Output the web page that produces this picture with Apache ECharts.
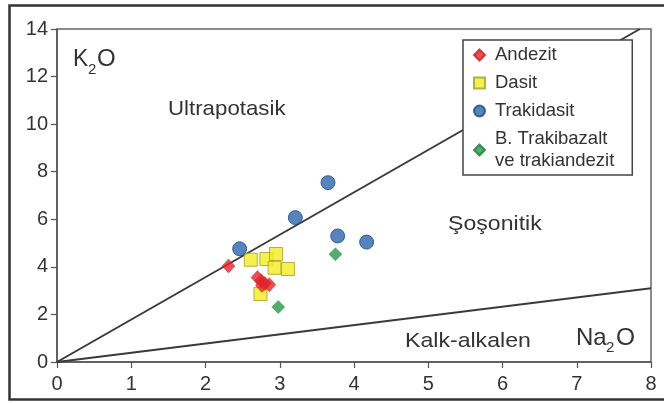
<!DOCTYPE html>
<html>
<head>
<meta charset="utf-8">
<script src="https://cdn.jsdelivr.net/npm/echarts@6/dist/echarts.min.js"></script>
<style>html,body{margin:0;padding:0;background:#fff}#c{width:664px;height:403px}</style>
</head>
<body>
<div id="c"></div>
<script>
// ---- data ----
var seriesNames = ['Andezit', 'Dasit', 'Trakidasit', 'B. Trakibazalt\nve trakiandezit'];
var andezit = [[2.31, 4.04], [2.70, 3.55], [2.75, 3.42], [2.80, 3.30], [2.86, 3.25], [2.76, 3.22]];
var dasit = [[2.61, 4.30], [2.82, 4.33], [2.95, 4.54], [2.93, 3.96], [3.11, 3.91], [2.74, 2.86]];
var trakidasit = [[3.65, 7.54], [3.21, 6.07], [2.46, 4.76], [3.78, 5.30], [4.17, 5.04]];
var trakibazalt = [[3.75, 4.53], [2.98, 2.31]];
var upperBoundary = [[0, 0], [7.85, 14]];
var lowerBoundary = [[0, 0], [8, 3.1]];
var xTicks = [0, 1, 2, 3, 4, 5, 6, 7, 8];
var yTicks = [0, 2, 4, 6, 8, 10, 12, 14];

var FONT = '"Liberation Sans", Arial, sans-serif';
var TXT = '#333';

function label(text, x, y, size, sx) {
  return {type: 'text', x: x, y: y, scaleX: sx || 1, z: 10,
    style: {text: text, fontSize: size, fontFamily: FONT, fill: TXT, align: 'left', verticalAlign: 'middle'}};
}

var chart = echarts.init(document.getElementById('c'), null, {renderer: 'canvas'});
chart.setOption({
  animation: false,
  backgroundColor: '#fff',
  grid: {left: 57, right: 13, top: 29, bottom: 41, show: true, borderColor: '#666', borderWidth: 1.5},
  xAxis: {
    type: 'value', min: xTicks[0], max: xTicks[xTicks.length - 1], interval: 1,
    splitLine: {show: false},
    axisLine: {lineStyle: {color: '#555', width: 1.5}},
    axisTick: {length: 6, lineStyle: {color: '#555', width: 1.2}},
    axisLabel: {fontSize: 20, fontFamily: FONT, color: TXT, margin: 12}
  },
  yAxis: {
    type: 'value', min: yTicks[0], max: yTicks[yTicks.length - 1], interval: 2,
    splitLine: {show: false},
    axisLine: {lineStyle: {color: '#555', width: 1.5}},
    axisTick: {length: 6, lineStyle: {color: '#555', width: 1.2}},
    axisLabel: {fontSize: 20, fontFamily: FONT, color: TXT, margin: 9}
  },
  legend: {
    orient: 'vertical', left: 463, top: 40,
    data: seriesNames,
    itemWidth: 11, itemHeight: 11, itemGap: 6,
    padding: [4, 18, 3, 10],
    borderColor: '#444', borderWidth: 1.5, backgroundColor: '#fff',
    textStyle: {fontSize: 18.5, fontFamily: FONT, color: TXT, lineHeight: 22, padding: [0, 0, 0, 5]}
  },
  series: [
    {type: 'line', data: upperBoundary, symbol: 'none', silent: true, z: 1,
     lineStyle: {color: '#3a3a3a', width: 2}},
    {type: 'line', data: lowerBoundary, symbol: 'none', silent: true, z: 1,
     lineStyle: {color: '#3a3a3a', width: 2}},
    {name: seriesNames[0], type: 'scatter', data: andezit, symbol: 'diamond', symbolSize: [13, 14],
     itemStyle: {color: '#e2242b', borderColor: '#c81e24', borderWidth: 0.5}, z: 5},
    {name: seriesNames[1], type: 'scatter', data: dasit, symbol: 'rect', symbolSize: 13,
     itemStyle: {color: '#f4ec22', borderColor: '#a59c2a', borderWidth: 1}, z: 4},
    {name: seriesNames[2], type: 'scatter', data: trakidasit, symbol: 'circle', symbolSize: 14,
     itemStyle: {color: '#2c67ad', borderColor: '#1b4a80', borderWidth: 1}, z: 4},
    {name: seriesNames[3], type: 'scatter', data: trakibazalt, symbol: 'diamond', symbolSize: 13,
     itemStyle: {color: '#28994a', borderColor: '#1e7a3a', borderWidth: 0.5}, z: 4}
  ],
  graphic: [
    {type: 'rect', z: 20, silent: true, shape: {x: 9.5, y: 5.5, width: 700, height: 394},
     style: {fill: 'none', stroke: '#333', lineWidth: 2.5}},
    label('K', 73, 59, 24, 0.95),
    label('2', 88, 70, 15, 1),
    label('O', 97, 59, 24, 1),
    label('Na', 576, 338, 24, 1),
    label('2', 606, 348, 15, 1),
    label('O', 616, 338, 24, 1.02),
    label('Ultrapotasik', 168, 109, 21, 1.06),
    label('Şoşonitik', 448, 224, 21, 1.1),
    label('Kalk-alkalen', 405, 341, 21, 1.1)
  ]
});
</script>
</body>
</html>
